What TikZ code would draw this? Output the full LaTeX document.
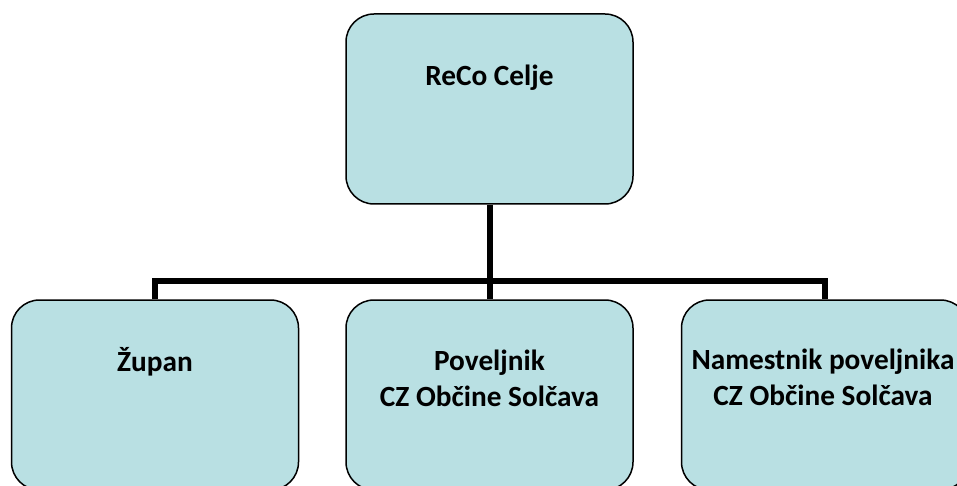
\documentclass[tikz,border=0pt]{standalone}
\usepackage{fontspec}
\setmainfont{Carlito}
\usetikzlibrary{calc}
\definecolor{boxfill}{HTML}{B9E0E3}
\tikzset{
  orgbox/.style={draw=black, line width=1.5pt, fill=boxfill, rounded corners=28pt,
    minimum width=287pt, minimum height=190pt, inner sep=0pt},
  lbl/.style={font=\fontsize{29.3}{36}\selectfont\bfseries, align=center, inner sep=0pt, anchor=base},
  conn/.style={draw=black, line width=6pt}
}
\begin{document}
\begin{tikzpicture}[x=1pt,y=-1pt]
\clip (0,0) rectangle (957,486);
\useasboundingbox (0,0) rectangle (957,486);
\coordinate (bus) at (489.5,281);
\node[orgbox] (top) at (489.5,109) {};
\node[orgbox] (zup) at (155,395) {};
\node[orgbox] (pov) at (489.5,395) {};
\node[orgbox] (nam) at (825,395) {};
\draw[conn] (top.south) -- (bus);
\draw[conn] (zup.north) |- (bus) -| (nam.north);
\draw[conn] (bus) -- (pov.north);
\node[lbl] (ttop) at ($(top.north)+(0,72)$) {ReCo Celje};
\node[lbl] (tzup) at ($(zup.north)+(0,72)$) {Župan};
\node[lbl] (tpov) at ($(pov.north)+(0,107)$) {Poveljnik\\CZ Občine Solčava};
\node[lbl] (tnam) at ($(nam.north)+(-2,106)$) {Namestnik poveljnika\\CZ Občine Solčava};
\end{tikzpicture}
\end{document}
